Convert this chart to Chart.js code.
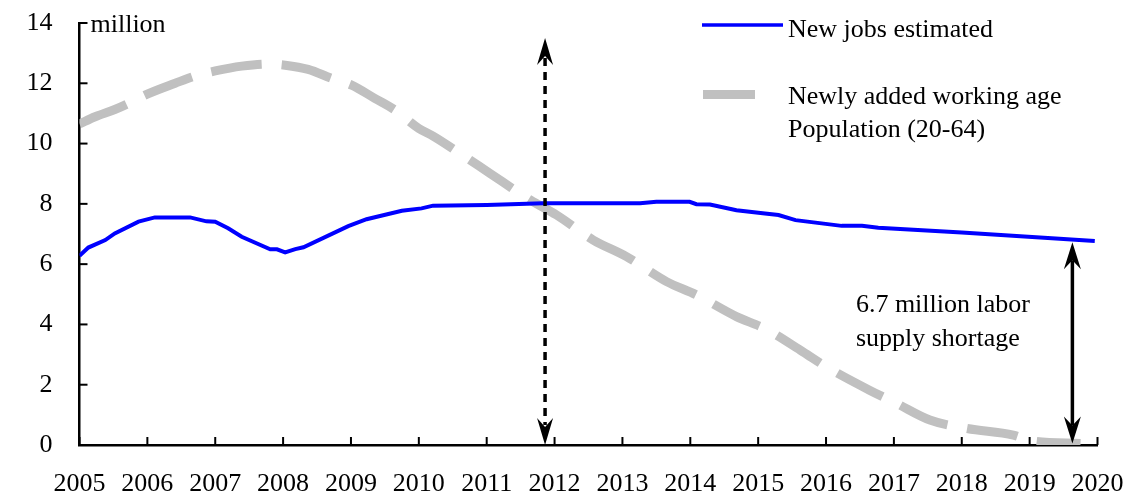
<!DOCTYPE html>
<html><head><meta charset="utf-8">
<script src="https://cdn.jsdelivr.net/npm/chart.js@4.4.0/dist/chart.umd.min.js"></script>
<style>html,body{margin:0;padding:0;background:#fff;}#wrap{width:1128px;height:495px;}</style>
</head><body><div id="wrap"><canvas id="c" width="1128" height="495"></canvas></div>
<script>
// ---- data ----
const jobsYears  = [2005.0,2005.13,2005.38,2005.52,2005.87,2006.11,2006.63,2006.87,2007.0,2007.19,2007.39,2007.81,2007.91,2008.03,2008.18,2008.30,2008.96,2009.23,2009.75,2010.04,2010.21,2011.0,2011.83,2013.26,2013.5,2013.99,2014.09,2014.29,2014.68,2015.1,2015.3,2015.55,2016.23,2016.53,2016.77,2018.0,2019.96];
const jobsValues = [6.28,6.55,6.80,7.02,7.41,7.55,7.55,7.42,7.41,7.19,6.91,6.49,6.49,6.39,6.50,6.56,7.26,7.49,7.77,7.85,7.94,7.96,8.02,8.02,8.07,8.07,7.99,7.98,7.79,7.68,7.63,7.46,7.27,7.27,7.21,7.05,6.77];
const popYears   = [2005.0,2005.23,2005.52,2005.72,2005.99,2006.41,2006.70,2007.0,2007.39,2007.78,2008.03,2008.37,2008.72,2009.01,2009.35,2009.65,2010.0,2010.21,2010.61,2011.05,2011.64,2012.03,2012.57,2013.06,2013.65,2014.09,2014.68,2015.1,2015.66,2016.0,2016.64,2017.04,2017.53,2018.07,2018.76,2019.05,2019.75];
const popValues  = [10.65,10.89,11.13,11.33,11.63,12.0,12.24,12.41,12.57,12.64,12.60,12.46,12.16,11.94,11.50,11.11,10.50,10.25,9.67,9.01,8.13,7.63,6.80,6.25,5.42,4.98,4.26,3.86,3.09,2.60,1.82,1.38,0.83,0.55,0.33,0.13,0.05];
const xTickYears = [2005,2006,2007,2008,2009,2010,2011,2012,2013,2014,2015,2016,2017,2018,2019,2020];
const yTickValues = [0,2,4,6,8,10,12,14];
const jobsName = "New jobs estimated";
const popNameLines = ["Newly added working age", "Population (20-64)"];
const unitLabel = "million";
const crossoverYear = 2011.86, crossoverTop = 13.5, crossoverBottom = 0;
const shortageYear = 2019.63, shortageTop = 6.73, shortageBottom = 0.05;
const shortageLines = ["6.7 million labor", "supply shortage"];
const shortageTextYear = 2016.44, shortageTextValues = [4.4, 3.3];

// ---- chart ----
const FSIZE = 26;
const FONT = FSIZE + 'px "Liberation Serif", "Times New Roman", serif';
const INK = '#000';

function arrowHead(ctx, x, tipY, dir, hw, len, notch) {
  ctx.beginPath();
  ctx.moveTo(x, tipY);
  ctx.lineTo(x - hw, tipY + dir * len);
  ctx.lineTo(x, tipY + dir * notch);
  ctx.lineTo(x + hw, tipY + dir * len);
  ctx.closePath();
  ctx.fill();
}

const decor = {
  id: 'decor',
  afterDatasetsDraw(chart) {
    const {ctx, scales: {x, y}} = chart;
    ctx.save();
    ctx.fillStyle = '#000'; ctx.strokeStyle = '#000';
    ctx.lineWidth = 2;
    yTickValues.forEach(v => {
      const py = y.getPixelForValue(v);
      ctx.beginPath(); ctx.moveTo(x.left, py); ctx.lineTo(x.left + 8, py); ctx.stroke();
    });
    xTickYears.forEach(v => {
      const px = x.getPixelForValue(v);
      ctx.beginPath(); ctx.moveTo(px, y.bottom); ctx.lineTo(px, y.bottom - 8); ctx.stroke();
    });
    const cx = x.getPixelForValue(crossoverYear);
    const cTop = y.getPixelForValue(crossoverTop), cBot = y.getPixelForValue(crossoverBottom);
    ctx.lineWidth = 3.5; ctx.setLineDash([8, 6]);
    ctx.beginPath(); ctx.moveTo(cx, cTop + 20); ctx.lineTo(cx, cBot - 20); ctx.stroke();
    ctx.setLineDash([]);
    arrowHead(ctx, cx, cTop, 1, 8, 27, 18);
    arrowHead(ctx, cx, cBot, -1, 8, 27, 18);
    const sx = x.getPixelForValue(shortageYear);
    const sTop = y.getPixelForValue(shortageTop), sBot = y.getPixelForValue(shortageBottom);
    ctx.lineWidth = 3.5;
    ctx.beginPath(); ctx.moveTo(sx, sTop + 18); ctx.lineTo(sx, sBot - 18); ctx.stroke();
    arrowHead(ctx, sx, sTop, 1, 8.5, 27, 18);
    arrowHead(ctx, sx, sBot, -1, 8.5, 27, 18);
    ctx.font = FONT; ctx.fillStyle = INK; ctx.textBaseline = 'alphabetic'; ctx.textAlign = 'left';
    const tx = x.getPixelForValue(shortageTextYear);
    shortageLines.forEach((t, i) => ctx.fillText(t, tx, y.getPixelForValue(shortageTextValues[i])));
    ctx.fillText(unitLabel, x.left + 11, 32);
    ctx.strokeStyle = '#0000FF'; ctx.lineWidth = 3.5;
    ctx.beginPath(); ctx.moveTo(702, 25); ctx.lineTo(783, 25); ctx.stroke();
    ctx.fillStyle = '#C0C0C0'; ctx.fillRect(703, 90, 52, 9);
    ctx.fillStyle = INK;
    ctx.fillText(jobsName, 788, 37);
    ctx.fillText(popNameLines[0], 788, 104);
    ctx.fillText(popNameLines[1], 788, 137);
    ctx.restore();
  }
};

new Chart(document.getElementById('c'), {
  type: 'line',
  data: {
    datasets: [
      { label: jobsName, data: jobsYears.map((t, i) => ({x: t, y: jobsValues[i]})),
        borderColor: '#0000FF', borderWidth: 4, pointRadius: 0, tension: 0, fill: false },
      { label: popNameLines.join(' '), data: popYears.map((t, i) => ({x: t, y: popValues[i]})),
        borderColor: '#C0C0C0', borderWidth: 9, borderDash: [51, 20], borderCapStyle: 'butt',
        pointRadius: 0, cubicInterpolationMode: 'monotone', fill: false }
    ]
  },
  options: {
    responsive: false, animation: false, devicePixelRatio: 1,
    layout: { padding: { left: 0, top: 23, right: 30.5, bottom: 0 } },
    plugins: { legend: { display: false }, tooltip: { enabled: false } },
    scales: {
      x: {
        type: 'linear', min: 2005, max: 2020,
        afterFit: s => { s.height = 50; s.paddingLeft = 0; s.paddingRight = 0; },
        afterBuildTicks: s => { s.ticks = xTickYears.map(v => ({value: v})); },
        grid: { display: false, drawTicks: false },
        border: { display: true, color: '#000', width: 2.5 },
        ticks: { callback: v => String(v), color: INK, font: { family: '"Liberation Serif", serif', size: FSIZE }, padding: 24, maxRotation: 0, autoSkip: false }
      },
      y: {
        min: 0, max: 14,
        afterFit: s => { s.width = 79.5; s.paddingTop = 0; s.paddingBottom = 0; },
        afterBuildTicks: s => { s.ticks = yTickValues.map(v => ({value: v})); },
        grid: { display: false, drawTicks: false },
        border: { display: true, color: '#000', width: 2.5 },
        ticks: { callback: v => String(v), color: INK, font: { family: '"Liberation Serif", serif', size: FSIZE }, padding: 27 }
      }
    }
  },
  plugins: [decor]
});
</script></body></html>
